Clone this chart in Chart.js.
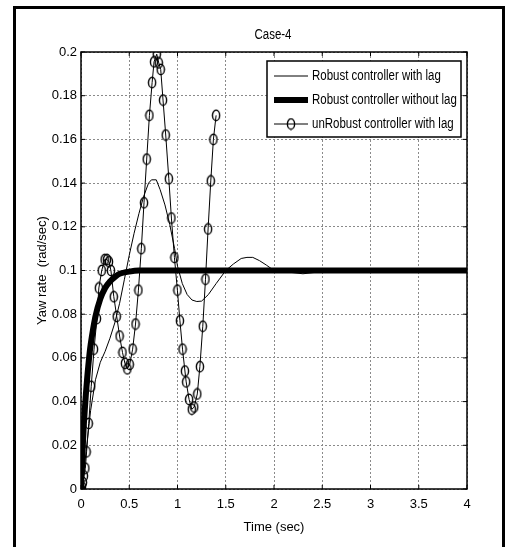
<!DOCTYPE html>
<html>
<head>
<meta charset="utf-8">
<script src="https://cdn.jsdelivr.net/npm/chart.js@4.4.0/dist/chart.umd.min.js"></script>
<style>
body { margin: 0; background: #fff; }
#frame { position: absolute; left: 13px; top: 6px; width: 486px; height: 560px; border: 3px solid #000; }
#wrap { position: absolute; left: 0; top: 0; width: 508px; height: 547px; }
</style>
</head>
<body>
<div id="frame"></div>
<div id="wrap"><canvas id="yaw-chart" width="508" height="547"></canvas></div>
<script>
// tick labels
var xTicks = [0, 0.5, 1, 1.5, 2, 2.5, 3, 3.5, 4];
var xTickLabels = ["0", "0.5", "1", "1.5", "2", "2.5", "3", "3.5", "4"];
var yTicks = [0, 0.02, 0.04, 0.06, 0.08, 0.1, 0.12, 0.14, 0.16, 0.18, 0.2];
var yTickLabels = ["0", "0.02", "0.04", "0.06", "0.08", "0.1", "0.12", "0.14", "0.16", "0.18", "0.2"];

var seriesNames = ["Robust controller with lag", "Robust controller without lag", "unRobust controller with lag"];

// Robust controller with lag (thin line)
var lagTime = [0, 0.03, 0.06, 0.1, 0.15, 0.2, 0.25, 0.3, 0.35, 0.4, 0.45, 0.5, 0.55, 0.6, 0.65, 0.7, 0.73, 0.78,
    0.82, 0.87, 0.92, 0.97, 1.0, 1.05, 1.1, 1.15, 1.2, 1.25, 1.32, 1.4, 1.5, 1.58, 1.66, 1.72, 1.78, 1.85, 1.92,
    2.0, 2.1, 2.2, 2.3, 2.4, 2.5, 2.7, 3, 3.5, 4];
var lagYaw = [0, 0.008, 0.02, 0.036, 0.05, 0.058, 0.063, 0.069, 0.076, 0.085, 0.096, 0.107, 0.117, 0.126, 0.134, 0.14, 0.1415, 0.1415,
    0.137, 0.13, 0.121, 0.11, 0.102, 0.094, 0.089, 0.0865, 0.0858, 0.086, 0.089, 0.094, 0.1, 0.103, 0.1055, 0.106, 0.106, 0.1045, 0.1025,
    0.1, 0.0995, 0.099, 0.0985, 0.099, 0.0995, 0.1, 0.1, 0.1, 0.1];

// Robust controller without lag (thick line)
var noLagTime = [0, 0.01, 0.02, 0.03, 0.05, 0.075, 0.1, 0.15, 0.2, 0.25, 0.3, 0.35, 0.4, 0.5, 0.6, 1, 2, 3, 4];
var noLagYaw = [0, 0.011, 0.021, 0.03, 0.043, 0.056, 0.066, 0.079, 0.087, 0.092, 0.095, 0.097, 0.0985, 0.0995, 0.1, 0.1, 0.1, 0.1, 0.1];

// unRobust controller with lag (line with markers)
var unTime = [0, 0.01, 0.02, 0.03, 0.045, 0.058, 0.08, 0.106, 0.135, 0.165, 0.185, 0.215, 0.245, 0.27, 0.29, 0.31,
    0.34, 0.37, 0.4, 0.43, 0.455, 0.48, 0.505, 0.535, 0.565, 0.595, 0.625, 0.653, 0.681, 0.709, 0.737, 0.757,
    0.785, 0.806, 0.826, 0.85, 0.878, 0.91, 0.937, 0.968, 0.999, 1.025, 1.052, 1.077, 1.09, 1.12, 1.148, 1.173,
    1.205, 1.232, 1.262, 1.29, 1.317, 1.345, 1.372, 1.4];
var unYaw = [0, 0.001, 0.003, 0.006, 0.0095, 0.017, 0.03, 0.047, 0.064, 0.078, 0.092, 0.1, 0.105, 0.105, 0.104, 0.1,
    0.088, 0.079, 0.07, 0.0625, 0.0575, 0.055, 0.057, 0.064, 0.0755, 0.091, 0.11, 0.131, 0.151, 0.171, 0.186, 0.1955,
    0.199, 0.195, 0.192, 0.178, 0.162, 0.142, 0.124, 0.106, 0.091, 0.077, 0.064, 0.054, 0.049, 0.041, 0.0365, 0.0375,
    0.0435, 0.056, 0.0745, 0.096, 0.119, 0.141, 0.16, 0.171];

function toPoints(xs, ys) {
    var pts = [];
    for (var i = 0; i < xs.length; i++) pts.push({x: xs[i], y: ys[i]});
    return pts;
}

// oval marker (matlab 'o' on a stretched figure)
var marker = document.createElement("canvas");
marker.width = 10;
marker.height = 13;
var mctx = marker.getContext("2d");
mctx.strokeStyle = "#000";
mctx.lineWidth = 1.4;
mctx.beginPath();
mctx.ellipse(5, 6.5, 3.6, 5.2, 0, 0, Math.PI * 2);
mctx.stroke();

var FONT = "'Liberation Sans', Arial, sans-serif";

// narrow text, the original figure is squeezed sideways
function narrowText(ctx, str, x, y) {
    ctx.save();
    ctx.translate(x, y);
    ctx.scale(0.82, 1);
    ctx.fillText(str, 0, 0);
    ctx.restore();
}

const matlabBox = {
    id: 'matlabBox',
    afterDraw(chart) {
        const ctx = chart.ctx;
        const a = chart.chartArea;
        const xs = chart.scales.x, ys = chart.scales.y;
        ctx.save();
        // axes box
        ctx.strokeStyle = "#000";
        ctx.lineWidth = 1.5;
        ctx.strokeRect(a.left, a.top, a.right - a.left, a.bottom - a.top);
        // inward ticks
        ctx.lineWidth = 1;
        ctx.beginPath();
        xTicks.forEach(function (v) {
            var px = xs.getPixelForValue(v);
            ctx.moveTo(px, a.bottom); ctx.lineTo(px, a.bottom - 4);
            ctx.moveTo(px, a.top); ctx.lineTo(px, a.top + 4);
        });
        yTicks.forEach(function (v) {
            var py = ys.getPixelForValue(v);
            ctx.moveTo(a.left, py); ctx.lineTo(a.left + 4, py);
            ctx.moveTo(a.right, py); ctx.lineTo(a.right - 4, py);
        });
        ctx.stroke();

        // title
        ctx.fillStyle = "#000";
        ctx.font = "14px " + FONT;
        ctx.textAlign = "center";
        ctx.textBaseline = "middle";
        narrowText(ctx, "Case-4", 273, 35);

        // legend
        var lx = 267, ly = 61, lw = 194, lh = 76;
        ctx.fillStyle = "#fff";
        ctx.fillRect(lx, ly, lw, lh);
        ctx.lineWidth = 1.5;
        ctx.strokeRect(lx, ly, lw, lh);
        var rows = [76, 100, 124];
        ctx.textAlign = "left";
        ctx.fillStyle = "#000";
        for (var i = 0; i < 3; i++) {
            ctx.beginPath();
            ctx.lineWidth = i === 1 ? 6 : 1;
            ctx.moveTo(274, rows[i]);
            ctx.lineTo(308, rows[i]);
            ctx.stroke();
            if (i === 2) ctx.drawImage(marker, 291 - 5, rows[i] - 6.5);
            narrowText(ctx, seriesNames[i], 312, rows[i]);
        }
        ctx.restore();
    }
};

const chart = new Chart(document.getElementById("yaw-chart"), {
    type: 'line',
    data: {
        datasets: [{
            label: seriesNames[0],
            data: toPoints(lagTime, lagYaw),
            borderColor: "#000",
            borderWidth: 1,
            pointRadius: 0,
            tension: 0
        }, {
            label: seriesNames[1],
            data: toPoints(noLagTime, noLagYaw),
            borderColor: "#000",
            borderWidth: 6,
            pointRadius: 0,
            tension: 0.3
        }, {
            label: seriesNames[2],
            data: toPoints(unTime, unYaw),
            borderColor: "#000",
            borderWidth: 1,
            pointStyle: marker,
            pointRadius: 5,
            tension: 0
        }]
    },
    options: {
        responsive: false,
        animation: false,
        devicePixelRatio: 1,
        layout: { padding: { top: 52, right: 41, left: 0, bottom: 0 } },
        plugins: {
            legend: { display: false },
            tooltip: { enabled: false }
        },
        scales: {
            x: {
                type: 'linear',
                min: 0, max: 4,
                afterBuildTicks: function (s) { s.ticks = xTicks.map(function (v) { return {value: v}; }); },
                afterFit: function (s) { s.height = 58; },
                ticks: {
                    color: "#000",
                    font: { family: FONT, size: 13 },
                    padding: 8,
                    maxRotation: 0,
                    callback: function (v, i) { return xTickLabels[i]; }
                },
                grid: { color: "#8a8a8a", lineWidth: 1, drawTicks: false },
                border: { display: false, dash: [2, 2] },
                title: {
                    display: true,
                    text: "Time (sec)",
                    color: "#000",
                    font: { family: FONT, size: 13 },
                    padding: { top: 0, bottom: 12 }
                }
            },
            y: {
                type: 'linear',
                min: 0, max: 0.2,
                afterBuildTicks: function (s) { s.ticks = yTicks.map(function (v) { return {value: v}; }); },
                afterFit: function (s) { s.width = 81; },
                ticks: {
                    color: "#000",
                    font: { family: FONT, size: 13 },
                    padding: 4,
                    callback: function (v, i) { return yTickLabels[i]; }
                },
                grid: { color: "#8a8a8a", lineWidth: 1, drawTicks: false },
                border: { display: false, dash: [2, 2] },
                title: {
                    display: true,
                    text: "Yaw rate  (rad/sec)",
                    color: "#000",
                    font: { family: FONT, size: 13 },
                    padding: { top: 35, bottom: 0 }
                }
            }
        }
    },
    plugins: [matlabBox]
});
</script>
</body>
</html>
